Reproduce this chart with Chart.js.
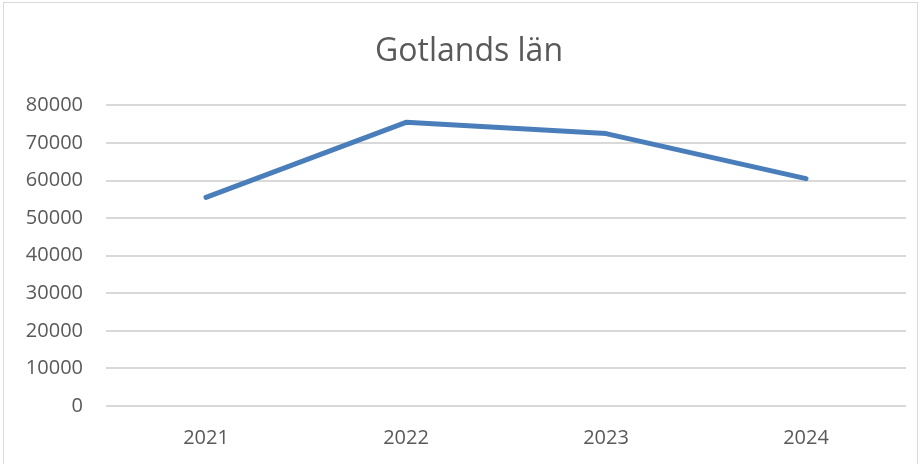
<!DOCTYPE html>
<html>
<head>
<meta charset="utf-8">
<script src="https://cdn.jsdelivr.net/npm/chart.js@4"></script>
<style>
  html, body { margin: 0; padding: 0; background: #fff; overflow: hidden; }
  #wrap { position: relative; width: 938px; height: 464px; }
  #frame { position: absolute; left: 3px; top: 2px; width: 913px; height: 470px; border: 1px solid #d9d9d9; pointer-events: none; }
</style>
</head>
<body>
<div id="wrap">
  <canvas id="chart" width="938" height="464"></canvas>
</div>
<div id="frame"></div>
<script>
const years = ['2021', '2022', '2023', '2024'];
const values = [55500, 75500, 72500, 60500];
const yTicks = [0, 10000, 20000, 30000, 40000, 50000, 60000, 70000, 80000];

const textColor = '#595959';
const fontFamily = '"Open Sans", Lato, sans-serif';

const ctx = document.getElementById('chart').getContext('2d');
new Chart(ctx, {
  type: 'line',
  data: {
    labels: years,
    datasets: [{
      label: 'Gotlands län',
      data: values,
      yAxisID: 'y',
      borderColor: '#4a7ebb',
      borderWidth: 5,
      pointRadius: 0,
      tension: 0,
      borderCapStyle: 'round',
      borderJoinStyle: 'round',
      fill: false
    }]
  },
  options: {
    responsive: false,
    animation: false,
    devicePixelRatio: 1,
    layout: { padding: 0 },
    plugins: {
      legend: { display: false },
      tooltip: { enabled: false },
      title: {
        display: true,
        text: 'Gotlands län',
        color: textColor,
        font: { family: fontFamily, size: 32, weight: 'normal', lineHeight: 1.2 },
        padding: { top: 33, bottom: 34 }
      }
    },
    scales: {
      x: {
        offset: true,
        grid: { display: false, drawTicks: false },
        border: { display: false },
        ticks: { color: textColor, font: { family: fontFamily, size: 20 }, padding: 20, maxRotation: 0 },
        afterFit: (scale) => { scale.height = 58; }
      },
      y: {
        min: 0,
        max: 80000,
        afterBuildTicks: (scale) => { scale.ticks = yTicks.map(v => ({ value: v })); },
        grid: { color: '#d9d9d9', lineWidth: 2, drawTicks: false },
        border: { display: false },
        ticks: {
          color: textColor,
          font: { family: fontFamily, size: 20 },
          padding: 23,
          callback: (v) => String(v)
        },
        afterFit: (scale) => { scale.width = 106; }
      },
      // empty right-hand spacer so the plot ends where the reference does
      spacer: {
        position: 'right',
        min: 0,
        max: 80000,
        grid: { display: false, drawTicks: false },
        border: { display: false },
        ticks: { display: false },
        afterFit: (scale) => { scale.width = 32; }
      }
    }
  }
});
</script>
</body>
</html>
